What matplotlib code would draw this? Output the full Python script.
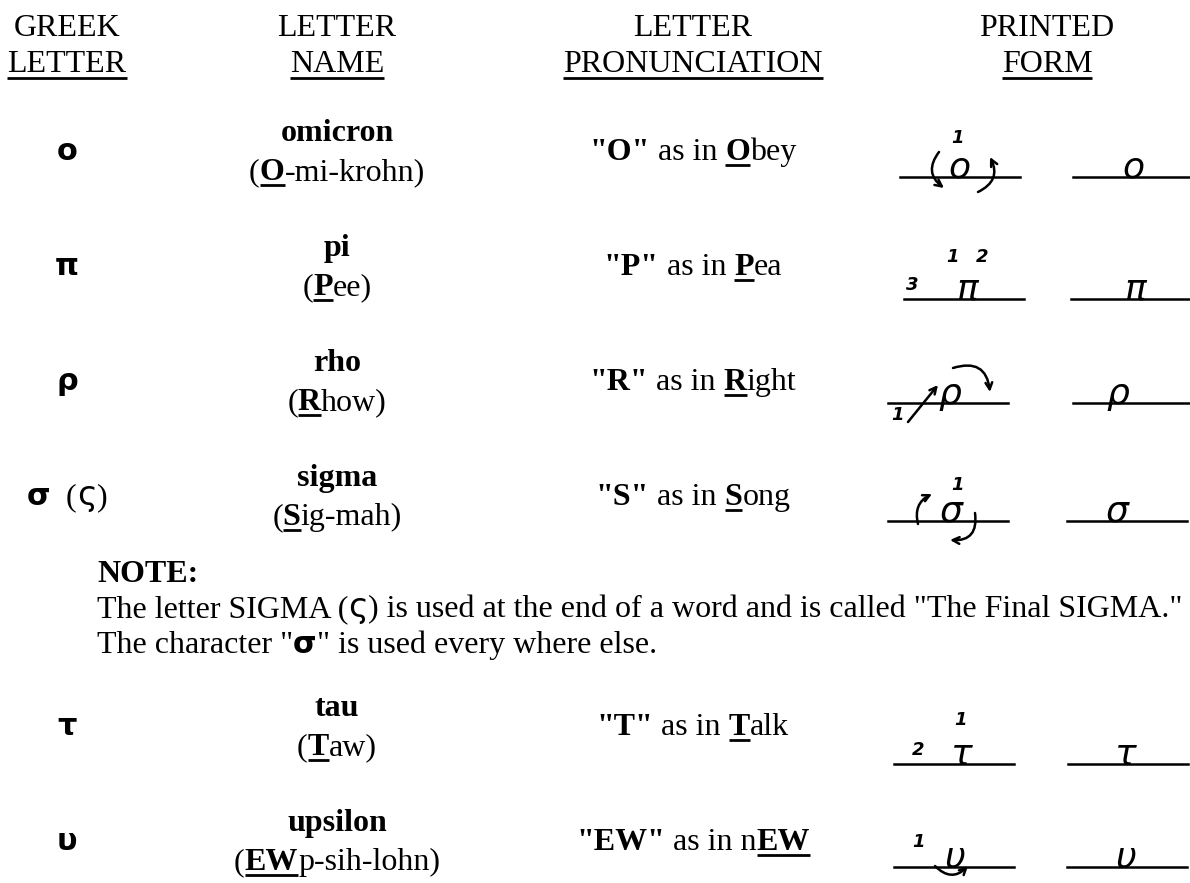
import matplotlib
matplotlib.use('Agg')
import matplotlib.pyplot as plt

# ---- table content ----
header_top = ['GREEK', 'LETTER', 'LETTER', 'PRINTED']
header_bottom = ['LETTER', 'NAME', 'PRONUNCIATION', 'FORM']

greek_letters = ['ο', 'π', 'ρ', 'σ', 'τ', 'υ']
final_forms = ['', '', '', 'ς', '', '']
letter_names = ['omicron', 'pi', 'rho', 'sigma', 'tau', 'upsilon']
name_keys = ['O', 'P', 'R', 'S', 'T', 'EW']
name_rests = ['-mi-krohn', 'ee', 'how', 'ig-mah', 'aw', 'p-sih-lohn']
sounds = ['"O"', '"P"', '"R"', '"S"', '"T"', '"EW"']
word_heads = ['', '', '', '', '', 'n']
word_keys = ['O', 'P', 'R', 'S', 'T', 'EW']
word_tails = ['bey', 'ea', 'ight', 'ong', 'alk', '']

note_title = 'NOTE:'
note_line1 = ['The letter SIGMA (', 'ς', ') is used at the end of a word and is called "The Final SIGMA."']
note_line2 = ['The character "', 'σ', '" is used every where else.']

# ---- layout ----
W, H = 1190, 883
col_x = [67, 337, 693, 1047]
row_slot = [0, 1, 2, 3, 5, 6]          # slot 4 holds the note
row_top, row_step = 141, 115
form_line_y = [177, 299, 403, 521, 764, 867]
left_line_x0 = [900, 904, 888, 888, 894, 894]
right_line_x0 = [1073, 1071, 1073, 1067, 1068, 1067]
left_glyph_x = [959, 967, 950, 951, 962, 955]
right_glyph_x = [1133, 1135, 1118, 1117, 1126, 1126]

FS = 23
FONTS = {
    'serif': dict(family='Liberation Serif', fontsize=FS),
    'serif_b': dict(family='Liberation Serif', fontsize=FS, weight='bold'),
    'sans': dict(family='DejaVu Sans', fontsize=FS * 1.05),
    'sans_b': dict(family='DejaVu Sans', fontsize=FS * 0.95, weight='bold'),
}
hand = dict(family='DejaVu Sans', style='oblique', fontsize=26)
digit = dict(family='DejaVu Sans', style='oblique', weight='bold', fontsize=13)

fig = plt.figure(figsize=(W / 100, H / 100), dpi=100)
ax = fig.add_axes([0, 0, 1, 1])
ax.set_xlim(0, W)
ax.set_ylim(H, 0)
ax.axis('off')
fig.canvas.draw()
renderer = fig.canvas.get_renderer()


def adv(s, font):
    # advance width in pixels (= data units here), trailing spaces included
    if not s:
        return 0
    t1 = ax.text(0, 0, s + '|', **FONTS[font])
    t2 = ax.text(0, 0, '|', **FONTS[font])
    w = t1.get_window_extent(renderer).width - t2.get_window_extent(renderer).width
    t1.remove()
    t2.remove()
    return w


def draw_runs(x, y, runs, ha='center', ul_off=4.5):
    widths = [adv(s, f) for s, f, u in runs]
    if ha == 'center':
        x = x - sum(widths) / 2
    for (s, f, u), w in zip(runs, widths):
        if s:
            ax.text(x, y, s, ha='left', va='baseline', **FONTS[f])
        if u and s:
            ax.plot([x, x + w], [y + ul_off, y + ul_off], color='black', lw=2.0,
                    solid_capstyle='butt')
        x += w


# headers
for cx, top, bot in zip(col_x, header_top, header_bottom):
    draw_runs(cx, 36, [(top, 'serif', False)])
    draw_runs(cx, 72, [(bot, 'serif', True)], ul_off=5.5)

# rows
for i in range(len(greek_letters)):
    yn = row_top + row_step * row_slot[i]
    yg = yn + 19
    if final_forms[i]:
        draw_runs(col_x[0], yg, [(greek_letters[i], 'sans_b', False), ('  (', 'serif', False),
                                 (final_forms[i], 'sans', False), (')', 'serif', False)])
    else:
        draw_runs(col_x[0], yg, [(greek_letters[i], 'sans_b', False)])
    draw_runs(col_x[1], yn, [(letter_names[i], 'serif_b', False)])
    draw_runs(col_x[1], yn + 39, [('(', 'serif', False), (name_keys[i], 'serif_b', True),
                                  (name_rests[i] + ')', 'serif', False)])
    draw_runs(col_x[2], yg, [(sounds[i], 'serif_b', False), (' as in ' + word_heads[i], 'serif', False),
                             (word_keys[i], 'serif_b', True), (word_tails[i], 'serif', False)])

    # printed form: guide lines and hand-drawn style letters
    ly = form_line_y[i]
    ax.plot([left_line_x0[i], left_line_x0[i] + 120], [ly, ly], color='black', lw=1.8)
    ax.plot([right_line_x0[i], min(right_line_x0[i] + 120, W)], [ly, ly], color='black', lw=1.8)
    ax.text(left_glyph_x[i], ly + 1, greek_letters[i], ha='center', va='baseline', **hand)
    ax.text(right_glyph_x[i], ly + 1, greek_letters[i], ha='center', va='baseline', **hand)

# stroke order numbers
stroke_digits = [('1', 957, 138), ('1', 952, 257), ('2', 982, 257), ('3', 912, 285),
                 ('1', 897, 415), ('1', 957, 485), ('1', 960, 720), ('2', 918, 750),
                 ('1', 918, 842)]
for s, x, y in stroke_digits:
    ax.text(x, y, s, ha='center', va='center', **digit)

# stroke direction arrows
stroke_arrows = [((939, 152), (944, 188), 0.5), ((978, 192), (990, 157), 0.5),
                 ((908, 422), (938, 385), 0.0), ((953, 368), (990, 392), -0.6),
                 ((918, 524), (932, 494), -0.4), ((975, 513), (950, 540), -0.6),
                 ((935, 866), (968, 866), 0.5)]
for start, end, rad in stroke_arrows:
    ax.annotate('', xy=end, xytext=start,
                arrowprops=dict(arrowstyle='->', lw=1.8, color='black', mutation_scale=12,
                                shrinkA=0, shrinkB=0,
                                connectionstyle=f'arc3,rad={rad}'))

# note block
ny = row_top + row_step * 4
draw_runs(97, ny - 19, [(note_title, 'serif_b', False)], ha='left')
draw_runs(97, ny + 16, [(note_line1[0], 'serif', False), (note_line1[1], 'sans', False),
                        (note_line1[2], 'serif', False)], ha='left')
draw_runs(97, ny + 52, [(note_line2[0], 'serif', False), (note_line2[1], 'sans_b', False),
                        (note_line2[2], 'serif', False)], ha='left')

fig.savefig('out.png', dpi=100, facecolor='white')
